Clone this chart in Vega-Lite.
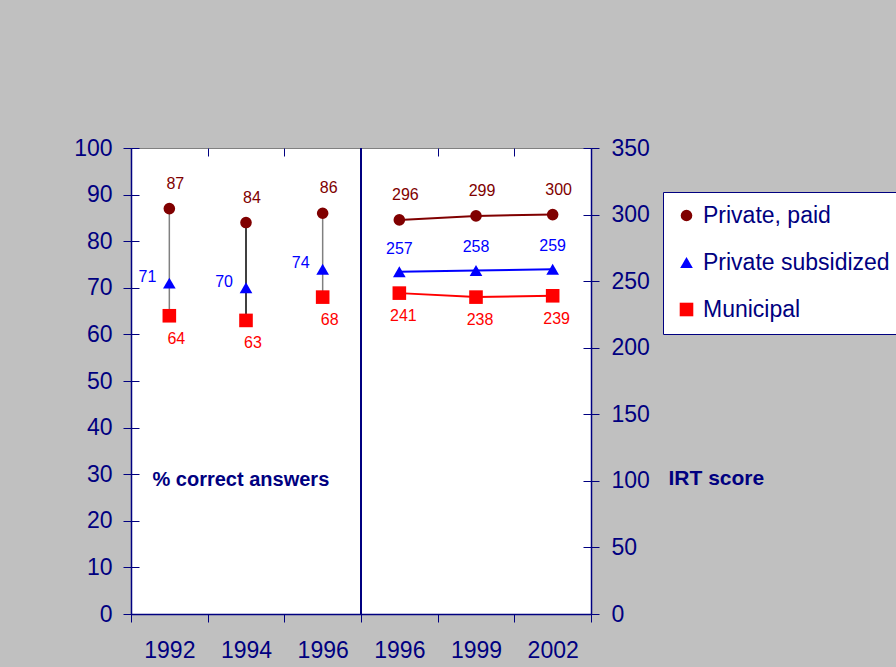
{
  "$schema": "https://vega.github.io/schema/vega-lite/v6.json",
  "width": 460,
  "height": 466,
  "autosize": {"type": "none"},
  "padding": {"left": 131, "top": 148, "right": 305, "bottom": 53},
  "background": "#C0C0C0",
  "view": {"fill": "white", "stroke": "#808080", "strokeWidth": 1},
  "config": {
    "font": "Liberation Sans",
    "scale": {"bandPaddingInner": 0, "bandPaddingOuter": 0},
    "legend": {
      "orient": "none",
      "legendX": 532,
      "legendY": 44,
      "fillColor": "white",
      "strokeColor": "#000080",
      "padding": 12,
      "labelFontSize": 23,
      "labelColor": "#000080",
      "labelFont": "Liberation Sans",
      "labelLimit": 400,
      "rowPadding": 23,
      "labelOffset": 5,
      "symbolStrokeWidth": 0
    }
  },
  "datasets": {
    "pct": [
      {"key": "1992", "series": "Private, paid", "value": 87},
      {"key": "1992", "series": "Private subsidized", "value": 71},
      {"key": "1992", "series": "Municipal", "value": 64},
      {"key": "1994", "series": "Private, paid", "value": 84},
      {"key": "1994", "series": "Private subsidized", "value": 70},
      {"key": "1994", "series": "Municipal", "value": 63},
      {"key": "1996L", "series": "Private, paid", "value": 86},
      {"key": "1996L", "series": "Private subsidized", "value": 74},
      {"key": "1996L", "series": "Municipal", "value": 68}
    ],
    "irt": [
      {"key": "1996R", "series": "Private, paid", "value": 296},
      {"key": "1996R", "series": "Private subsidized", "value": 257},
      {"key": "1996R", "series": "Municipal", "value": 241},
      {"key": "1999", "series": "Private, paid", "value": 299},
      {"key": "1999", "series": "Private subsidized", "value": 258},
      {"key": "1999", "series": "Municipal", "value": 238},
      {"key": "2002", "series": "Private, paid", "value": 300},
      {"key": "2002", "series": "Private subsidized", "value": 259},
      {"key": "2002", "series": "Municipal", "value": 239}
    ]
  },
  "layer": [
    {
      "data": {"name": "pct"},
      "transform": [{"aggregate": [{"op": "max", "field": "value", "as": "hi"}, {"op": "min", "field": "value", "as": "lo"}], "groupby": ["key"]}],
      "mark": {"type": "rule", "strokeWidth": 1.5},
      "encoding": {
        "x": {"field": "key", "type": "nominal", "scale": {"type": "band", "domain": ["1992", "1994", "1996L", "1996R", "1999", "2002"]},
          "axis": {"title": null, "labelExpr": "isString(datum.value) ? slice(datum.value, 0, 4) : ''", "tickBand": "extent", "labelAngle": 0, "labelFontSize": 23, "labelColor": "#000080", "domainColor": "#000080", "tickColor": "#000080", "tickSize": 8, "labelPadding": 17, "domainWidth": 1.5, "grid": false}},
        "y": {"field": "hi", "type": "quantitative", "scale": {"domain": [0, 100], "nice": false},
          "axis": {"orient": "left", "values": [0, 10, 20, 30, 40, 50, 60, 70, 80, 90, 100], "title": "% correct answers", "titleAngle": 0, "titleAlign": "left", "titleBaseline": "middle", "titleX": 21, "titleY": 331, "titleFontSize": 20, "titleFontWeight": "bold", "titleColor": "#000080", "labelFontSize": 23, "labelColor": "#000080", "labelPadding": 11, "tickSize": 8, "tickColor": "#000080", "domainColor": "#000080", "domainWidth": 1.5, "grid": false}},
        "y2": {"field": "lo"},
        "color": {"condition": {"test": "datum.key === '1994'", "value": "#000000"}, "value": "#808080"}
      }
    },
    {
      "data": {"name": "pct"},
      "mark": {"type": "point", "filled": true, "opacity": 1},
      "encoding": {
        "x": {"field": "key", "type": "nominal", "scale": {"type": "band", "domain": ["1992", "1994", "1996L", "1996R", "1999", "2002"]},
          "axis": {"title": null, "tickBand": "extent", "labels": false, "domain": false, "tickColor": "#000080", "tickSize": -8, "grid": false}},
        "y": {"field": "value", "type": "quantitative", "scale": {"domain": [0, 100], "nice": false},
          "axis": {"orient": "left", "values": [0, 10, 20, 30, 40, 50, 60, 70, 80, 90, 100], "title": null, "labels": false, "domain": false, "tickSize": -8, "tickColor": "#000080", "grid": false}},
        "color": {"field": "series", "type": "nominal", "scale": {"domain": ["Private, paid", "Private subsidized", "Municipal"], "range": ["#800000", "#0000FF", "#FF0000"]}, "legend": {"title": null}},
        "shape": {"field": "series", "type": "nominal", "scale": {"domain": ["Private, paid", "Private subsidized", "Municipal"], "range": ["circle", "triangle-up", "square"]}, "legend": {"title": null}},
        "size": {"field": "series", "type": "nominal", "scale": {"domain": ["Private, paid", "Private subsidized", "Municipal"], "range": [135, 185, 135]}, "legend": {"title": null}}
      }
    },
    {
      "data": {"name": "pct"},
      "transform": [{"filter": "datum.series === 'Private, paid'"}],
      "mark": {"type": "text", "fontSize": 16, "dx": 6, "dy": -25, "align": "center", "baseline": "middle"},
      "encoding": {
        "x": {"field": "key", "type": "nominal", "scale": {"type": "band", "domain": ["1992", "1994", "1996L", "1996R", "1999", "2002"]}, "axis": null},
        "y": {"field": "value", "type": "quantitative", "scale": {"domain": [0, 100], "nice": false}, "axis": null},
        "text": {"field": "value", "type": "quantitative"},
        "color": {"field": "series", "type": "nominal", "legend": null}
      }
    },
    {
      "data": {"name": "pct"},
      "transform": [{"filter": "datum.series === 'Private subsidized'"}],
      "mark": {"type": "text", "fontSize": 16, "dx": -13, "dy": -6, "align": "right", "baseline": "middle"},
      "encoding": {
        "x": {"field": "key", "type": "nominal", "scale": {"type": "band", "domain": ["1992", "1994", "1996L", "1996R", "1999", "2002"]}, "axis": null},
        "y": {"field": "value", "type": "quantitative", "scale": {"domain": [0, 100], "nice": false}, "axis": null},
        "text": {"field": "value", "type": "quantitative"},
        "color": {"field": "series", "type": "nominal", "legend": null}
      }
    },
    {
      "data": {"name": "pct"},
      "transform": [{"filter": "datum.series === 'Municipal'"}],
      "mark": {"type": "text", "fontSize": 16, "dx": 7, "dy": 23, "align": "center", "baseline": "middle"},
      "encoding": {
        "x": {"field": "key", "type": "nominal", "scale": {"type": "band", "domain": ["1992", "1994", "1996L", "1996R", "1999", "2002"]}, "axis": null},
        "y": {"field": "value", "type": "quantitative", "scale": {"domain": [0, 100], "nice": false}, "axis": null},
        "text": {"field": "value", "type": "quantitative"},
        "color": {"field": "series", "type": "nominal", "legend": null}
      }
    },
    {
      "data": {"name": "pct"},
      "mark": {"type": "rule", "color": "#000080", "strokeWidth": 2},
      "encoding": {
        "x": {"datum": "1996R", "bandPosition": 0, "type": "nominal", "scale": {"type": "band", "domain": ["1992", "1994", "1996L", "1996R", "1999", "2002"]}, "axis": null}
      }
    },
    {
      "data": {"name": "irt"},
      "mark": {"type": "line", "strokeWidth": 2},
      "encoding": {
        "x": {"field": "key", "type": "nominal", "scale": {"type": "band", "domain": ["1992", "1994", "1996L", "1996R", "1999", "2002"]}, "axis": null},
        "y": {"field": "value", "type": "quantitative", "scale": {"domain": [0, 350], "nice": false},
          "axis": {"orient": "right", "values": [0, 50, 100, 150, 200, 250, 300, 350], "title": "IRT score", "titleAngle": 0, "titleAlign": "left", "titleBaseline": "middle", "titleX": 77, "titleY": 330, "titleFontSize": 21, "titleFontWeight": "bold", "titleColor": "#000080", "labelFontSize": 23, "labelColor": "#000080", "labelPadding": 12, "tickSize": 8, "tickColor": "#000080", "domainColor": "#000080", "domainWidth": 1.5, "grid": false}},
        "color": {"field": "series", "type": "nominal", "legend": null},
        "detail": {"field": "series"}
      }
    },
    {
      "data": {"name": "irt"},
      "mark": {"type": "point", "filled": true, "opacity": 1},
      "encoding": {
        "x": {"field": "key", "type": "nominal", "scale": {"type": "band", "domain": ["1992", "1994", "1996L", "1996R", "1999", "2002"]}, "axis": null},
        "y": {"field": "value", "type": "quantitative", "scale": {"domain": [0, 350], "nice": false},
          "axis": {"orient": "right", "values": [0, 50, 100, 150, 200, 250, 300, 350], "title": null, "labels": false, "domain": false, "tickSize": -8, "tickColor": "#000080", "grid": false}},
        "color": {"field": "series", "type": "nominal", "legend": null},
        "shape": {"field": "series", "type": "nominal", "legend": null},
        "size": {"field": "series", "type": "nominal", "legend": null}
      }
    },
    {
      "data": {"name": "irt"},
      "transform": [{"filter": "datum.series === 'Private, paid'"}],
      "mark": {"type": "text", "fontSize": 16, "dx": 6, "dy": -25, "align": "center", "baseline": "middle"},
      "encoding": {
        "x": {"field": "key", "type": "nominal", "scale": {"type": "band", "domain": ["1992", "1994", "1996L", "1996R", "1999", "2002"]}, "axis": null},
        "y": {"field": "value", "type": "quantitative", "scale": {"domain": [0, 350], "nice": false}, "axis": null},
        "text": {"field": "value", "type": "quantitative"},
        "color": {"field": "series", "type": "nominal", "legend": null}
      }
    },
    {
      "data": {"name": "irt"},
      "transform": [{"filter": "datum.series === 'Private subsidized'"}],
      "mark": {"type": "text", "fontSize": 16, "dx": 0, "dy": -23, "align": "center", "baseline": "middle"},
      "encoding": {
        "x": {"field": "key", "type": "nominal", "scale": {"type": "band", "domain": ["1992", "1994", "1996L", "1996R", "1999", "2002"]}, "axis": null},
        "y": {"field": "value", "type": "quantitative", "scale": {"domain": [0, 350], "nice": false}, "axis": null},
        "text": {"field": "value", "type": "quantitative"},
        "color": {"field": "series", "type": "nominal", "legend": null}
      }
    },
    {
      "data": {"name": "irt"},
      "transform": [{"filter": "datum.series === 'Municipal'"}],
      "mark": {"type": "text", "fontSize": 16, "dx": 4, "dy": 23, "align": "center", "baseline": "middle"},
      "encoding": {
        "x": {"field": "key", "type": "nominal", "scale": {"type": "band", "domain": ["1992", "1994", "1996L", "1996R", "1999", "2002"]}, "axis": null},
        "y": {"field": "value", "type": "quantitative", "scale": {"domain": [0, 350], "nice": false}, "axis": null},
        "text": {"field": "value", "type": "quantitative"},
        "color": {"field": "series", "type": "nominal", "legend": null}
      }
    }
  ],
  "resolve": {"scale": {"x": "independent", "y": "independent"}, "axis": {"x": "independent", "y": "independent"}}
}
